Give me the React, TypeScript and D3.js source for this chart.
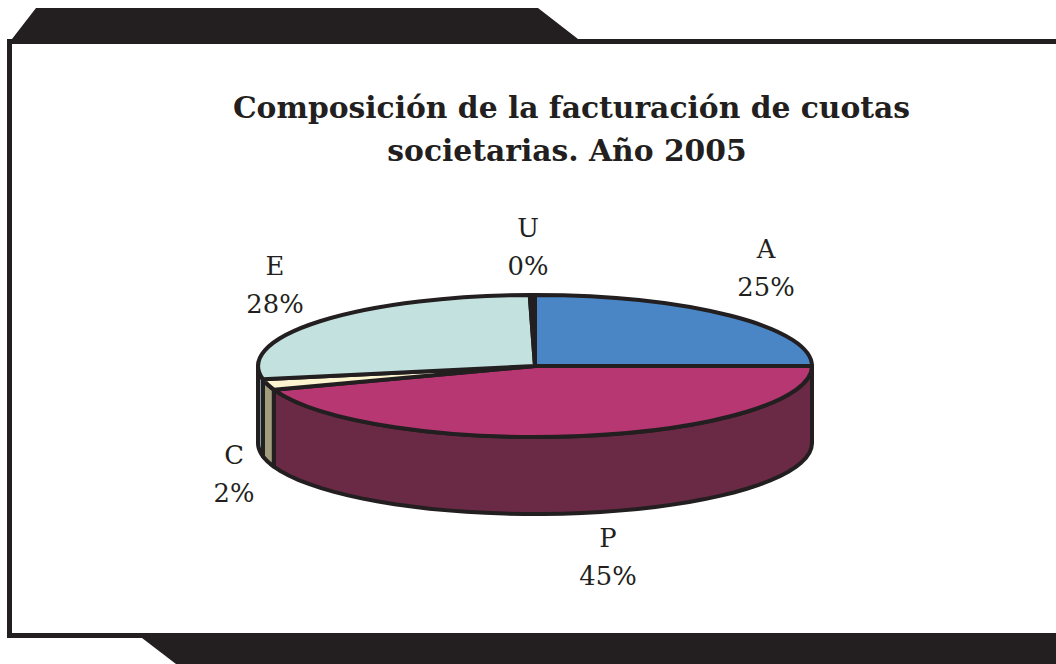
import React from 'react';
import * as d3 from 'd3';

// slices, clockwise from 12 o'clock
const labels = ['A', 'P', 'C', 'E', 'U'];
const shares = [25, 44.6, 2.4, 27.7, 0.3];
const percents = ['25%', '45%', '2%', '28%', '0%'];
const topColors = ['#4a86c6', '#b63772', '#fdf5cf', '#c3e2df', '#231f20'];
const sideColors = ['#2f5a8a', '#6a2a45', '#a09c7c', '#86aeb4', '#231f20'];
const titleLines = ['Composición de la facturación de cuotas', 'societarias. Año 2005'];
const titleX = [571.5, 567];
const labelPos = [
  [766, 249],
  [608, 538],
  [234, 455],
  [275, 266],
  [528, 228],
];

const ink = '#231f20';
const cx = 535;
const cy = 366;
const rx = 277;
const ry = 71;
const depth = 77;
const serif = '"DejaVu Serif", serif';

const pt = (a: number, dy = 0): [number, number] => [cx + rx * Math.sin(a), cy - ry * Math.cos(a) + dy];

export default function App() {
  const arcs = d3.pie<number>().sort(null).value((d) => d)(shares);
  const arc = d3.arc<d3.PieArcDatum<number>>().innerRadius(0).outerRadius(1);
  const line = d3.line();

  // outer wall only shows on the front half of the ellipse
  const walls = arcs
    .map((d, i) => {
      const a0 = Math.max(d.startAngle, Math.PI / 2);
      const a1 = Math.min(d.endAngle, (3 * Math.PI) / 2);
      if (a1 <= a0) return null;
      const as = d3.range(0, 41).map((k) => a0 + ((a1 - a0) * k) / 40);
      const pts = [...as.map((a) => pt(a)), ...as.slice().reverse().map((a) => pt(a, depth))];
      return { i, path: line(pts) + 'Z' };
    })
    .filter(Boolean) as { i: number; path: string }[];

  return (
    <svg
      width={1056}
      height={664}
      style={{ position: 'absolute', left: 0, top: 0, background: '#fff' }}
    >
      <polygon points="12,39 36,8 538,8 578,39 1056,39 1056,44 12,44" fill={ink} />
      <polygon points="142,638 1056,638 1056,664 176,664" fill={ink} />
      <path d="M1056,41.5H9.5V635.5H1056" fill="#fff" stroke={ink} strokeWidth={5} />

      {titleLines.map((t, i) => (
        <text
          key={t}
          x={titleX[i]}
          y={118 + i * 43}
          textAnchor="middle"
          fontFamily={serif}
          fontWeight={700}
          fontSize={29.75}
          fill={ink}
        >
          {t}
        </text>
      ))}

      {walls.map((w) => (
        <path
          key={w.i}
          d={w.path}
          fill={sideColors[w.i]}
          stroke={ink}
          strokeWidth={4}
          strokeLinejoin="round"
        />
      ))}

      <g transform={`translate(${cx},${cy}) scale(${rx},${ry})`}>
        {arcs.map((d, i) => (
          <path
            key={labels[i]}
            d={arc(d) as string}
            fill={topColors[i]}
            stroke={ink}
            strokeWidth={4}
            strokeLinejoin="round"
            vectorEffect="non-scaling-stroke"
          />
        ))}
      </g>

      {labels.map((l, i) => (
        <g key={l} fontFamily={serif} fontSize={25.8} fill={ink} textAnchor="middle">
          <text x={labelPos[i][0]} y={labelPos[i][1] + 9}>
            {l}
          </text>
          <text x={labelPos[i][0]} y={labelPos[i][1] + 47}>
            {percents[i]}
          </text>
        </g>
      ))}
    </svg>
  );
}
